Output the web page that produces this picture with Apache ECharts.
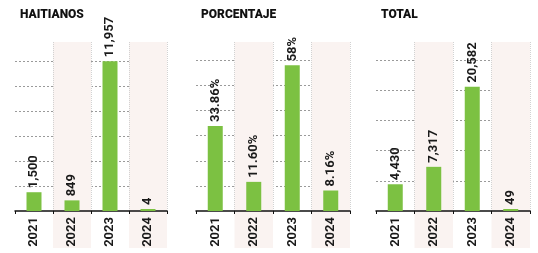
<!DOCTYPE html>
<html>
<head>
<meta charset="utf-8">
<script src="https://cdn.jsdelivr.net/npm/echarts@6/dist/echarts.min.js"></script>
<style>
  html, body { margin: 0; padding: 0; background: #fff; }
  #main { width: 538px; height: 253px; }
</style>
</head>
<body>
<div id="main"></div>
<script>
const years = ['2021', '2022', '2023', '2024'];
const titles = ['HAITIANOS', 'PORCENTAJE', 'TOTAL'];
const haitianos = [1500, 849, 11957, 4];
const porcentaje = [33.86, 11.60, 58, 8.16];
const porcentajeLabels = ['33.86%', '11.60%', '58%', '8.16%'];
const total = [4430, 7317, 20582, 49];

const GREEN = '#7cc142';
const BAND = '#faf3f1';
const FONT = "Roboto, 'Noto Sans', sans-serif";

// panel layout: left edge, width, y max, y interval
const panels = [
  { left: 15, width: 152, max: 13500, interval: 2000 },
  { left: 196, width: 154, max: 67.3, interval: 10 },
  { left: 376, width: 154, max: 28000, interval: 5000 }
];
const seriesData = [haitianos, porcentaje, total];
const labelFmt = [
  p => p.value.toLocaleString('en-US'),
  p => porcentajeLabels[p.dataIndex],
  p => p.value.toLocaleString('en-US')
];

const grid = [], xAxis = [], yAxis = [], series = [], title = [];

panels.forEach((pn, i) => {
  // chart area
  grid.push({ left: pn.left, width: pn.width, top: 42, bottom: 42 });
  // band area below the axis, behind the year labels
  grid.push({ left: pn.left, width: pn.width, top: 211, bottom: 5 });

  xAxis.push({
    type: 'category', gridIndex: i * 2, data: years,
    axisLine: { lineStyle: { color: '#111', width: 1.5 } },
    axisTick: { show: true, length: 3, lineStyle: { color: '#111' } },
    axisLabel: {
      rotate: 90, margin: 6, color: '#1a1a1a',
      fontFamily: FONT, fontWeight: 'bold', fontSize: 13
    },
    splitArea: { show: true, areaStyle: { color: ['rgba(0,0,0,0)', BAND] } },
    splitLine: { show: true, showMinLine: false, lineStyle: { color: '#d2d2d2', type: 'dotted', width: 1 } },
    z: 3
  });
  xAxis.push({
    type: 'category', gridIndex: i * 2 + 1, data: years,
    axisLine: { show: false }, axisTick: { show: false }, axisLabel: { show: false },
    splitArea: { show: true, areaStyle: { color: ['rgba(0,0,0,0)', BAND] } },
    splitLine: { show: false }
  });

  yAxis.push({
    type: 'value', gridIndex: i * 2, min: 0, max: pn.max, interval: pn.interval,
    axisLine: { show: false }, axisTick: { show: false }, axisLabel: { show: false },
    splitLine: {
      show: true, showMinLine: false, showMaxLine: false,
      lineStyle: { color: '#9a9a9a', type: [2, 2], width: 1 }
    }
  });
  yAxis.push({
    type: 'value', gridIndex: i * 2 + 1, min: 0, max: 1,
    show: false, splitLine: { show: false }
  });

  series.push({
    type: 'bar', xAxisIndex: i * 2, yAxisIndex: i * 2,
    data: seriesData[i], barWidth: 15, barMinHeight: 2,
    itemStyle: { color: GREEN },
    label: {
      show: true, position: 'top', rotate: 90, align: 'left', verticalAlign: 'middle',
      distance: 4, formatter: labelFmt[i],
      color: '#1a1a1a', fontFamily: FONT, fontWeight: 'bold', fontSize: 13
    },
    z: 4
  });

  title.push({
    text: titles[i], left: pn.left, top: 4,
    textStyle: { fontFamily: FONT, fontWeight: 900, fontSize: 12, color: '#111' }
  });
});

const chart = echarts.init(document.getElementById('main'), null, { renderer: 'canvas' });
chart.setOption({
  backgroundColor: '#fff',
  animation: false,
  title, grid, xAxis, yAxis, series
});
</script>
</body>
</html>
